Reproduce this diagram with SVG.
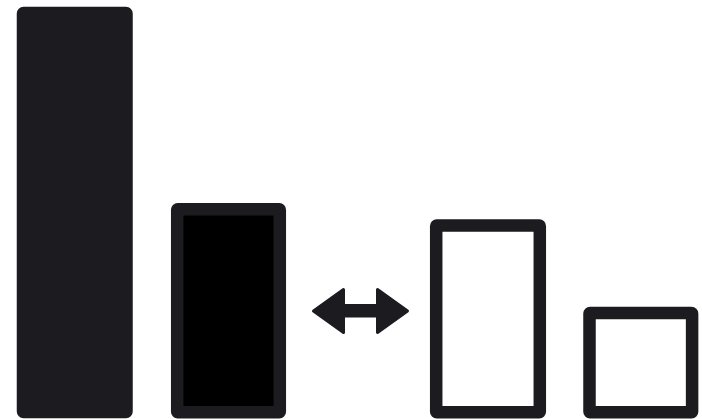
<svg xmlns="http://www.w3.org/2000/svg" width="702" height="419" viewBox="0 0 702 419">
<style>
.dark{fill:#1c1b1f;stroke:#1c1b1f;stroke-width:12.5;stroke-linejoin:round}
.frame{stroke:#1c1b1f;stroke-width:12.5;stroke-linejoin:round}
</style>
<rect width="702" height="419" fill="#ffffff"/>
<g id="bar-tall"><rect class="dark" x="23" y="13" width="103.5" height="399" rx="0.5"/></g>
<g id="bar-black"><rect class="frame" fill="#000000" x="177.2" y="209.2" width="102.6" height="203" rx="0.5"/></g>
<g id="connectors"><path d="M313.5,311 L343.5,289.5 L343.5,305.5 L377.5,305.5 L377.5,289.5 L407.5,311 L377.5,332.5 L377.5,316 L343.5,316 L343.5,332.5 Z" fill="#1c1b1f" stroke="#1c1b1f" stroke-width="3" stroke-linejoin="round"/></g>
<g id="bar-white"><rect class="frame" fill="#ffffff" x="436.2" y="225.5" width="103.6" height="186.7" rx="0.5"/></g>
<g id="box-white"><rect class="frame" fill="#ffffff" x="589.5" y="313" width="102.6" height="99.2" rx="0.5"/></g>
</svg>
